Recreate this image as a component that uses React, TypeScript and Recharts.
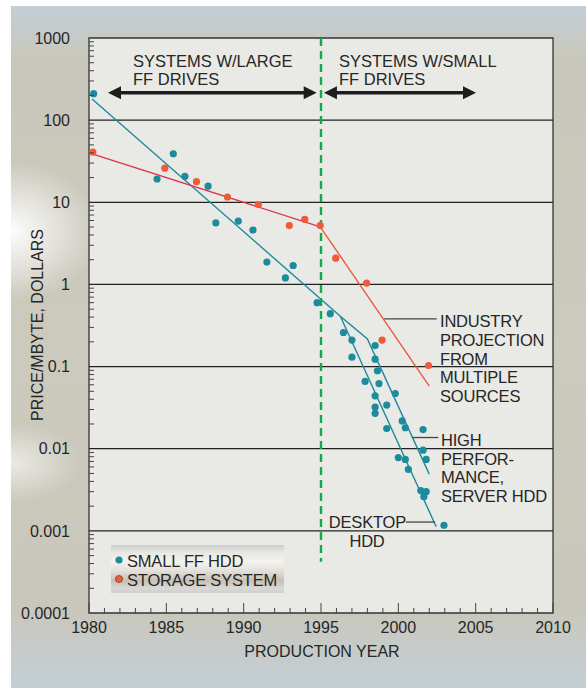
import React from 'react';
import {
  ComposedChart,
  Scatter,
  Line,
  XAxis,
  YAxis,
  CartesianGrid,
  ReferenceLine,
  ReferenceArea,
} from 'recharts';

// small form factor HDD price points (year, $/MB)
const HDD_YEARS = [
  1980.3, 1984.4, 1985.45, 1986.2, 1987.7, 1988.2, 1989.65, 1990.6, 1991.5, 1992.7,
  1993.2, 1994.75, 1995.6, 1996.45, 1997.0, 1997.0, 1998.5, 1998.5, 1998.65, 1997.85,
  1998.75, 1999.8, 1998.5, 1999.25, 1998.5, 1998.5, 1999.25, 2000.25, 2000.45, 2001.6,
  2001.6, 2001.8, 2000.0, 2000.45, 2000.65, 2001.45, 2001.8, 2001.65, 2002.95,
];
const HDD_PRICES = [
  210, 19.2, 39, 20.7, 15.7, 5.6, 5.9, 4.6, 1.87, 1.2,
  1.7, 0.6, 0.44, 0.26, 0.21, 0.13, 0.18, 0.123, 0.089, 0.066,
  0.062, 0.047, 0.044, 0.034, 0.032, 0.027, 0.0176, 0.0218, 0.018, 0.0171,
  0.0096, 0.0074, 0.0078, 0.0074, 0.0056, 0.0031, 0.003, 0.0026, 0.00117,
];

// storage system price points
const STORAGE_YEARS = [1980.25, 1984.9, 1986.95, 1988.95, 1990.95, 1992.95, 1993.95, 1994.95, 1995.95, 1997.95, 1998.95, 2001.95];
const STORAGE_PRICES = [40.8, 26, 17.8, 11.6, 9.4, 5.2, 6.2, 5.2, 2.09, 1.04, 0.21, 0.103];

// trend lines
const HDD_TREND_YEARS = [1980.2, 1996.25];
const HDD_TREND_PRICES = [181, 0.41];
const DESKTOP_YEARS = [1996.25, 2002.45];
const DESKTOP_PRICES = [0.41, 0.00112];
const SERVER_YEARS = [1996.25, 1998.0, 2002.0];
const SERVER_PRICES = [0.41, 0.217, 0.0049];
const STORAGE_TREND_YEARS = [1980.25, 1994.95];
const STORAGE_TREND_PRICES = [38.6, 5.03];
const PROJECTION_YEARS = [1994.95, 2002.0];
const PROJECTION_PRICES = [5.03, 0.0577];

// axes
const X_TICKS = [
  1980, 1981, 1982, 1983, 1984, 1985, 1986, 1987, 1988, 1989, 1990, 1991, 1992, 1993, 1994, 1995,
  1996, 1997, 1998, 1999, 2000, 2001, 2002, 2003, 2004, 2005, 2006, 2007, 2008, 2009, 2010,
];
const Y_DECADES = [0.0001, 0.001, 0.01, 0.1, 1, 10, 100, 1000];
const Y_DECADE_LABELS = ['0.0001', '0.001', '0.01', '0.1', '1', '10', '100', '1000'];
const Y_MINOR_STEPS = [2, 3, 4, 5, 6, 7, 8, 9];

const pts = (xs: number[], ys: number[]) => xs.map((x, i) => ({ x, y: ys[i] }));

const hddData = pts(HDD_YEARS, HDD_PRICES);
const storageData = pts(STORAGE_YEARS, STORAGE_PRICES);
const yTicks = [
  ...Y_DECADES,
  ...Y_DECADES.slice(0, -1).flatMap((d) => Y_MINOR_STEPS.map((m) => d * m)),
];

const FONT = '"Liberation Sans", Arial, Helvetica, sans-serif';
const INK = '#262626';
const TEAL = '#1c8b9c';
const ORANGE = '#ef5a3a';
const CRIMSON = '#dc3551';

const decadeIndex = (v: number) => Y_DECADES.findIndex((d) => Math.abs(v / d - 1) < 1e-6);

const YTick = (props: any) => {
  const { x, y, payload } = props;
  const i = decadeIndex(payload.value);
  if (i >= 0) {
    return (
      <text x={x - 19} y={y} dy="0.36em" textAnchor="end" fontSize={16} fontFamily={FONT} fill={INK}>
        {Y_DECADE_LABELS[i]}
      </text>
    );
  }
  return <line x1={x} y1={y} x2={x + 5} y2={y} stroke="#444" strokeWidth={1} />;
};

const XTick = (props: any) => {
  const { x, y, payload } = props;
  const major = payload.value % 5 === 0;
  return (
    <g>
      <line x1={x} y1={y} x2={x} y2={y - (major ? 10 : 5)} stroke="#444" strokeWidth={1} />
      {major && (
        <text x={x} y={y + 20} textAnchor="middle" fontSize={16} fontFamily={FONT} fill={INK}>
          {payload.value}
        </text>
      )}
    </g>
  );
};

const DoubleArrow = (props: any) => {
  const { x1, y1, x2, y2 } = props;
  const h = 13;
  const w = 6.5;
  return (
    <g>
      <line x1={x1 + h - 1} y1={y1} x2={x2 - h + 1} y2={y2} stroke="#1d1d1d" strokeWidth={3.5} />
      <polygon points={`${x1},${y1} ${x1 + h},${y1 - w} ${x1 + h},${y1 + w}`} fill="#1d1d1d" />
      <polygon points={`${x2},${y2} ${x2 - h},${y2 - w} ${x2 - h},${y2 + w}`} fill="#1d1d1d" />
    </g>
  );
};

const dot = (fill: string) => (p: any) => <circle cx={p.cx} cy={p.cy} r={3.6} fill={fill} />;

const txt = { fontFamily: FONT, fill: INK, fontSize: 16.5 } as const;
const note = { fontFamily: FONT, fill: INK, fontSize: 16.5, letterSpacing: -0.2 } as const;

export default function App() {
  return (
    <div style={{ position: 'absolute', left: 0, top: 0, width: 586, height: 688, overflow: 'hidden', background: '#fff' }}>
      <div
        style={{
          position: 'absolute',
          left: 11,
          top: 6,
          width: 575,
          height: 682,
          background:
            'radial-gradient(ellipse 90px 70px at 0% 33%, rgba(255,255,255,0.95), rgba(255,255,255,0) 100%),' +
            'radial-gradient(ellipse 70px 40px at 0% 67%, rgba(255,255,255,0.6), rgba(255,255,255,0) 100%),' +
            'linear-gradient(to bottom, #c3ced6 0%, #c9c7bb 8%, #ccc9bd 50%, #c9c7bb 88%, #c4ced5 100%)',
        }}
      />
      <div style={{ position: 'absolute', left: 0, top: 0 }}>
        <ComposedChart width={586} height={688} margin={{ top: 38, right: 33, bottom: 45, left: 29 }}>
          <CartesianGrid horizontal={false} vertical={false} fill="#e9e9e5" />
          <XAxis
            dataKey="x"
            type="number"
            domain={[1980, 2010]}
            ticks={X_TICKS}
            interval={0}
            allowDataOverflow
            axisLine={false}
            tickLine={false}
            tickSize={0}
            tickMargin={0}
            height={30}
            tick={XTick}
          />
          <YAxis
            dataKey="y"
            type="number"
            scale="log"
            domain={[0.0001, 1000]}
            ticks={yTicks}
            interval={0}
            allowDataOverflow
            axisLine={false}
            tickLine={false}
            tickSize={0}
            tickMargin={0}
            width={60}
            tick={YTick}
          />
          {Y_DECADES.slice(1, -1).map((d) => (
            <ReferenceLine key={d} y={d} stroke="#222" strokeWidth={1.3} />
          ))}
          <ReferenceArea x1={1980} x2={2010} y1={0.0001} y2={1000} fill="none" stroke="#333" strokeWidth={1.3} />

          <Line data={pts(HDD_TREND_YEARS, HDD_TREND_PRICES)} dataKey="y" type="linear" stroke={TEAL} strokeWidth={1.4} dot={false} activeDot={false} isAnimationActive={false} />
          <Line data={pts(DESKTOP_YEARS, DESKTOP_PRICES)} dataKey="y" type="linear" stroke={TEAL} strokeWidth={1.4} dot={false} activeDot={false} isAnimationActive={false} />
          <Line data={pts(SERVER_YEARS, SERVER_PRICES)} dataKey="y" type="linear" stroke={TEAL} strokeWidth={1.4} dot={false} activeDot={false} isAnimationActive={false} />
          <Line data={pts(STORAGE_TREND_YEARS, STORAGE_TREND_PRICES)} dataKey="y" type="linear" stroke={CRIMSON} strokeWidth={1.4} dot={false} activeDot={false} isAnimationActive={false} />
          <Line data={pts(PROJECTION_YEARS, PROJECTION_PRICES)} dataKey="y" type="linear" stroke={ORANGE} strokeWidth={1.4} dot={false} activeDot={false} isAnimationActive={false} />

          <ReferenceLine
            segment={[{ x: 1995, y: 1000 }, { x: 1995, y: 0.00042 }]}
            stroke="#13a84b"
            strokeWidth={2.4}
            strokeDasharray="8 5"
          />
          <ReferenceLine segment={[{ x: 1981.23, y: 216 }, { x: 1994.72, y: 216 }]} shape={DoubleArrow} />
          <ReferenceLine segment={[{ x: 1995.19, y: 216 }, { x: 2005.02, y: 216 }]} shape={DoubleArrow} />

          <ReferenceLine segment={[{ x: 1999.09, y: 0.381 }, { x: 2002.48, y: 0.381 }]} stroke="#444" strokeWidth={1.3} />
          <ReferenceLine segment={[{ x: 2000.92, y: 0.01368 }, { x: 2002.58, y: 0.01368 }]} stroke="#444" strokeWidth={1.3} />
          <ReferenceLine segment={[{ x: 2000.49, y: 0.00128 }, { x: 2002.37, y: 0.00128 }]} stroke="#444" strokeWidth={1.3} />

          <Scatter data={hddData} fill={TEAL} shape={dot(TEAL)} isAnimationActive={false} />
          <Scatter data={storageData} fill={ORANGE} shape={dot(ORANGE)} isAnimationActive={false} />
        </ComposedChart>
      </div>

      <svg width={586} height={688} style={{ position: 'absolute', left: 0, top: 0, pointerEvents: 'none' }}>
        <text x={133} y={67} {...txt}>SYSTEMS W/LARGE</text>
        <text x={133} y={85} {...txt}>FF DRIVES</text>
        <text x={339} y={67} {...txt}>SYSTEMS W/SMALL</text>
        <text x={339} y={85} {...txt}>FF DRIVES</text>

        <text x={440} y={327} {...note}>INDUSTRY</text>
        <text x={440} y={346} {...note}>PROJECTION</text>
        <text x={440} y={364.5} {...note}>FROM</text>
        <text x={440} y={383} {...note}>MULTIPLE</text>
        <text x={440} y={401.5} {...note}>SOURCES</text>

        <text x={441} y={446} {...note}>HIGH</text>
        <text x={441} y={464.5} {...note}>PERFOR-</text>
        <text x={441} y={483} {...note}>MANCE,</text>
        <text x={441} y={501.5} {...note}>SERVER HDD</text>

        <text x={406} y={528} textAnchor="end" {...note}>DESKTOP</text>
        <text x={367} y={546.5} textAnchor="middle" {...note}>HDD</text>

        <text x={322} y={657} textAnchor="middle" {...txt} fontSize={16}>PRODUCTION YEAR</text>
        <text
          x={0}
          y={0}
          transform="translate(43 325) rotate(-90)"
          textAnchor="middle"
          {...txt}
          fontSize={16}
        >
          PRICE/MBYTE, DOLLARS
        </text>
      </svg>

      <div
        style={{
          position: 'absolute',
          left: 111,
          top: 545,
          width: 173,
          height: 48,
          background:
            'linear-gradient(to bottom, #c9ced2 0%, #e6e5df 14%, #f4f3f0 34%, #e2dfd7 55%, #c6c1b5 74%, #d9d8d3 90%, #cbd1d5 100%)',
        }}
      >
        <svg width={173} height={48} style={{ position: 'absolute', left: 0, top: 0 }}>
          <circle cx={8} cy={15} r={3.6} fill={TEAL} />
          <text x={16} y={21.5} {...note}>SMALL FF HDD</text>
          <circle cx={8} cy={34} r={3.6} fill={ORANGE} stroke="#6a2a20" strokeWidth={0.6} />
          <text x={16} y={41} {...note}>STORAGE SYSTEM</text>
        </svg>
      </div>
    </div>
  );
}
